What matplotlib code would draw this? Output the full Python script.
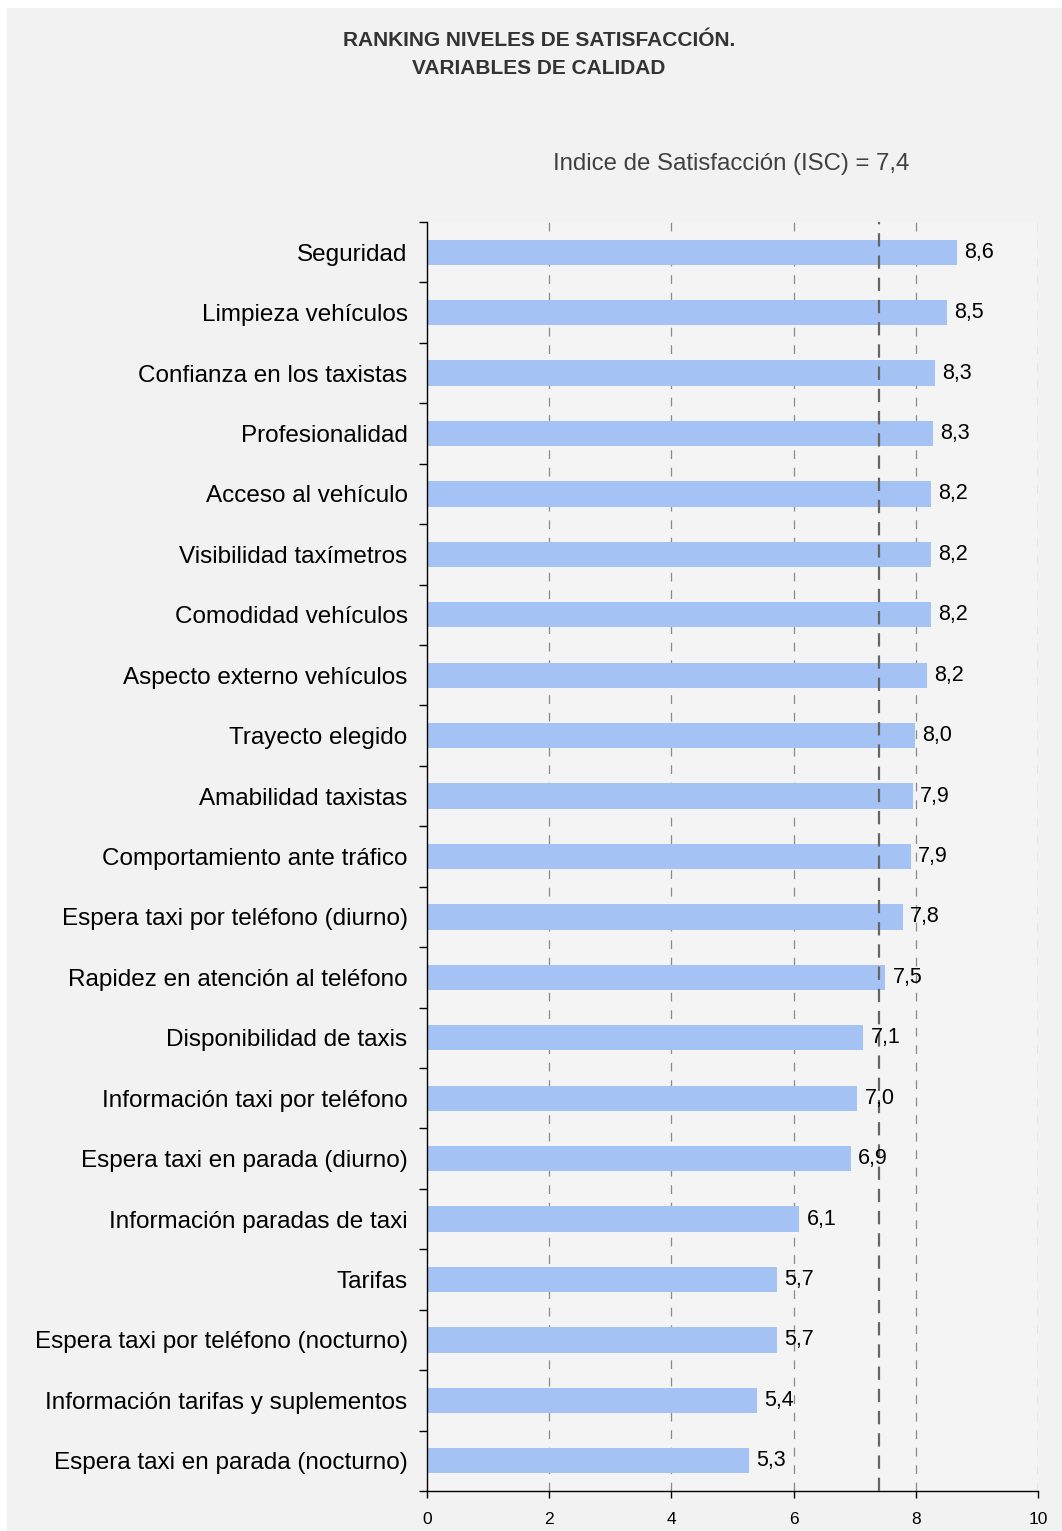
import numpy as np
import matplotlib.pyplot as plt
from matplotlib.patches import Rectangle

categories = [
    "Seguridad", "Limpieza vehículos", "Confianza en los taxistas",
    "Profesionalidad", "Acceso al vehículo", "Visibilidad taxímetros",
    "Comodidad vehículos", "Aspecto externo vehículos", "Trayecto elegido",
    "Amabilidad taxistas", "Comportamiento ante tráfico",
    "Espera taxi por teléfono (diurno)", "Rapidez en atención al teléfono",
    "Disponibilidad de taxis", "Información taxi por teléfono",
    "Espera taxi en parada (diurno)", "Información paradas de taxi",
    "Tarifas", "Espera taxi por teléfono (nocturno)",
    "Información tarifas y suplementos", "Espera taxi en parada (nocturno)",
]
values = [8.67, 8.51, 8.31, 8.28, 8.25, 8.25, 8.25, 8.18, 7.99, 7.95, 7.92,
          7.79, 7.50, 7.14, 7.04, 6.94, 6.09, 5.73, 5.73, 5.40, 5.27]
value_labels = ["8,6", "8,5", "8,3", "8,3", "8,2", "8,2", "8,2", "8,2", "8,0",
                "7,9", "7,9", "7,8", "7,5", "7,1", "7,0", "6,9", "6,1", "5,7",
                "5,7", "5,4", "5,3"]
isc = 7.4
xticks = [0, 2, 4, 6, 8, 10]

plt.rcParams['font.family'] = ['Liberation Sans', 'DejaVu Sans']

fig = plt.figure(figsize=(10.62, 15.31), dpi=100, facecolor='white')
fig.patches.append(Rectangle((7 / 1062, 0), 1 - 7 / 1062, 1 - 8 / 1531,
                             transform=fig.transFigure, facecolor='#f2f2f2',
                             edgecolor='none', zorder=-10))

ax = fig.add_axes([427 / 1062, 40 / 1531, 611 / 1062, 1269 / 1531])
ax.set_facecolor('#f4f4f4')

n = len(categories)
y = np.arange(n)
ax.barh(y, values, height=0.42, color='#a4c2f4', zorder=2)

for yi, v, lab in zip(y, values, value_labels):
    ax.text(v + 0.12, yi, lab, va='center', ha='left', fontsize=15.5,
            color='black', zorder=4)

for xv in xticks[1:]:
    ax.axvline(xv, color='#8a8a8a', lw=0.9, ls=(0, (7, 7)), zorder=1)
ax.axvline(isc, color='#666666', lw=1.6, ls=(0, (6, 4)), zorder=3)

ax.set_xlim(0, 10)
ax.set_ylim(n - 0.5, -0.5)
ax.set_xticks(xticks)
ax.set_xticklabels([str(t) for t in xticks], fontsize=12.5)
ax.tick_params(axis='x', length=5, width=1, pad=10)

ax.set_yticks(y)
ax.set_yticklabels(categories, fontsize=17.5)
ax.set_yticks(np.arange(-0.5, n), minor=True)
ax.tick_params(axis='y', which='major', length=0, pad=14)
ax.tick_params(axis='y', which='minor', length=6, width=1)

for s in ['top', 'right']:
    ax.spines[s].set_visible(False)
for s in ['left', 'bottom']:
    ax.spines[s].set_linewidth(1)

fig.text(539 / 1062, 1 - 40 / 1531, "RANKING NIVELES DE SATISFACCIÓN.",
         ha='center', va='center', fontsize=15, fontweight='bold', color='#333333')
fig.text(539 / 1062, 1 - 69 / 1531, "VARIABLES DE CALIDAD",
         ha='center', va='center', fontsize=15, fontweight='bold', color='#333333')
fig.text(731 / 1062, 1 - 164 / 1531, "Indice de Satisfacción (ISC) = 7,4",
         ha='center', va='center', fontsize=17.3, color='#404040')

fig.savefig('out.png', dpi=100, facecolor=fig.get_facecolor())
